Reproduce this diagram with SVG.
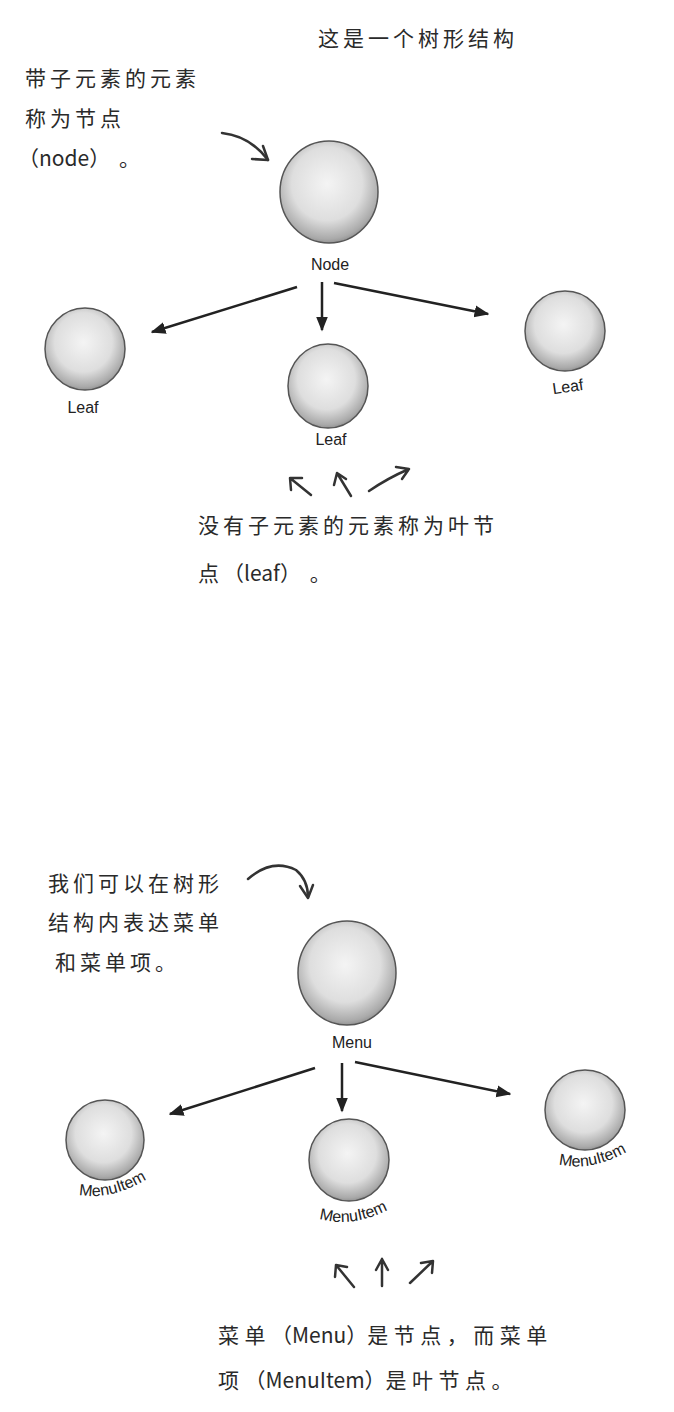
<svg xmlns="http://www.w3.org/2000/svg" width="674" height="1412" viewBox="0 0 674 1412">
<style>
.cn{font-family:"Noto Sans CJK SC","Noto Sans",sans-serif;font-size:21px;fill:#2a2a2a;letter-spacing:4px}
.wide{letter-spacing:5.5px}
.lat{letter-spacing:0}
.lbl{font-family:"Liberation Sans","DejaVu Sans",sans-serif;font-size:16px;fill:#222;text-anchor:middle}
.ball{fill:url(#g);stroke:#555;stroke-width:1.5}
.conn{stroke:#222;stroke-width:2.5;fill:none}
.hand{stroke:#333;stroke-width:2.5;fill:none;stroke-linecap:round;stroke-linejoin:round}
</style>
<defs>
<radialGradient id="g" cx="0.48" cy="0.42" r="0.6">
<stop offset="0" stop-color="#f4f4f4"/>
<stop offset="0.6" stop-color="#dedede"/>
<stop offset="0.9" stop-color="#aaa"/>
<stop offset="1" stop-color="#8a8a8a"/>
</radialGradient>
<marker id="ah" viewBox="0 0 10 10" refX="9" refY="5" markerWidth="6" markerHeight="6" orient="auto" markerUnits="strokeWidth">
<path d="M0,1 L10,5 L0,9 Z" fill="#222"/>
</marker>
<path id="arcL" d="M66,1191 Q108,1207 158,1172"/>
<path id="arcM" d="M308,1215 Q352,1233 398,1204"/>
<path id="arcR" d="M548,1161 Q590,1177 636,1146"/>
</defs>

<g id="title"><text class="cn" x="318" y="46">这是一个树形结构</text></g>

<g id="note-node">
<text class="cn" x="25" y="86">带子元素的元素</text>
<text class="cn" x="25" y="126">称为节点</text>
<text class="cn" x="18" y="166"><tspan class="lat">（node）</tspan> 。</text>
</g>

<g id="node"><ellipse class="ball" cx="329" cy="192" rx="49" ry="51"/><text class="lbl" x="330" y="270">Node</text></g>
<g id="leaf1"><ellipse class="ball" cx="85" cy="349" rx="40" ry="41"/><text class="lbl" x="83" y="413">Leaf</text></g>
<g id="leaf2"><ellipse class="ball" cx="328" cy="386" rx="40" ry="42"/><text class="lbl" x="331" y="445">Leaf</text></g>
<g id="leaf3"><ellipse class="ball" cx="565" cy="331" rx="40" ry="40"/><text class="lbl" x="568" y="392" transform="rotate(-8 568 388)">Leaf</text></g>

<g id="note-leaf">
<text class="cn" x="198" y="533">没有子元素的元素称为叶节</text>
<text class="cn" x="198" y="581">点<tspan class="lat">（leaf）</tspan> 。</text>
</g>

<g id="note-menu">
<text class="cn" x="48" y="891">我们可以在树形</text>
<text class="cn" x="48" y="930">结构内表达菜单</text>
<text class="cn" x="55" y="970">和菜单项。</text>
</g>

<g id="menu"><ellipse class="ball" cx="347" cy="973" rx="49" ry="52"/><text class="lbl" x="352" y="1048">Menu</text></g>
<g id="item1"><ellipse class="ball" cx="105" cy="1140" rx="39" ry="40"/><text class="lbl" font-size="15"><textPath href="#arcL" startOffset="50%">MenuItem</textPath></text></g>
<g id="item2"><ellipse class="ball" cx="349" cy="1160" rx="40" ry="41"/><text class="lbl" font-size="15"><textPath href="#arcM" startOffset="50%">MenuItem</textPath></text></g>
<g id="item3"><ellipse class="ball" cx="585" cy="1110" rx="40" ry="40"/><text class="lbl" font-size="15"><textPath href="#arcR" startOffset="50%">MenuItem</textPath></text></g>

<g id="note-menuitem">
<text class="cn wide" x="218" y="1343">菜单<tspan class="lat">（Menu）</tspan>是节点，而菜单</text>
<text class="cn wide" x="218" y="1388">项<tspan class="lat">（MenuItem）</tspan>是叶节点。</text>
</g>

<g id="connectors">
<path class="hand" d="M222,133 Q250,136 268,160"/>
<path class="hand" d="M252,159 L268,160 L263,146"/>
<line class="conn" x1="297" y1="287" x2="152" y2="332" marker-end="url(#ah)"/>
<line class="conn" x1="322" y1="282" x2="322" y2="330" marker-end="url(#ah)"/>
<line class="conn" x1="334" y1="283" x2="488" y2="314" marker-end="url(#ah)"/>
<path class="hand" d="M311,495 L290,478 M290,478 L291,490 M290,478 L302,478"/>
<path class="hand" d="M351,496 L337,473 M337,473 L334,485 M337,473 L346,479"/>
<path class="hand" d="M369,491 Q388,478 409,469 M409,469 L396,467 M409,469 L402,479"/>
<path class="hand" d="M248,879 Q272,858 296,870 Q308,880 308,897"/>
<path class="hand" d="M300,886 L308,898 L313,885"/>
<line class="conn" x1="315" y1="1068" x2="170" y2="1114" marker-end="url(#ah)"/>
<line class="conn" x1="342" y1="1063" x2="342" y2="1111" marker-end="url(#ah)"/>
<line class="conn" x1="355" y1="1062" x2="510" y2="1094" marker-end="url(#ah)"/>
<path class="hand" d="M354,1287 L336,1265 M336,1265 L335,1277 M336,1265 L347,1267"/>
<path class="hand" d="M382,1286 L382,1259 M382,1259 L376,1270 M382,1259 L388,1270"/>
<path class="hand" d="M410,1283 L433,1261 M433,1261 L421,1263 M433,1261 L432,1273"/>
</g>
</svg>
